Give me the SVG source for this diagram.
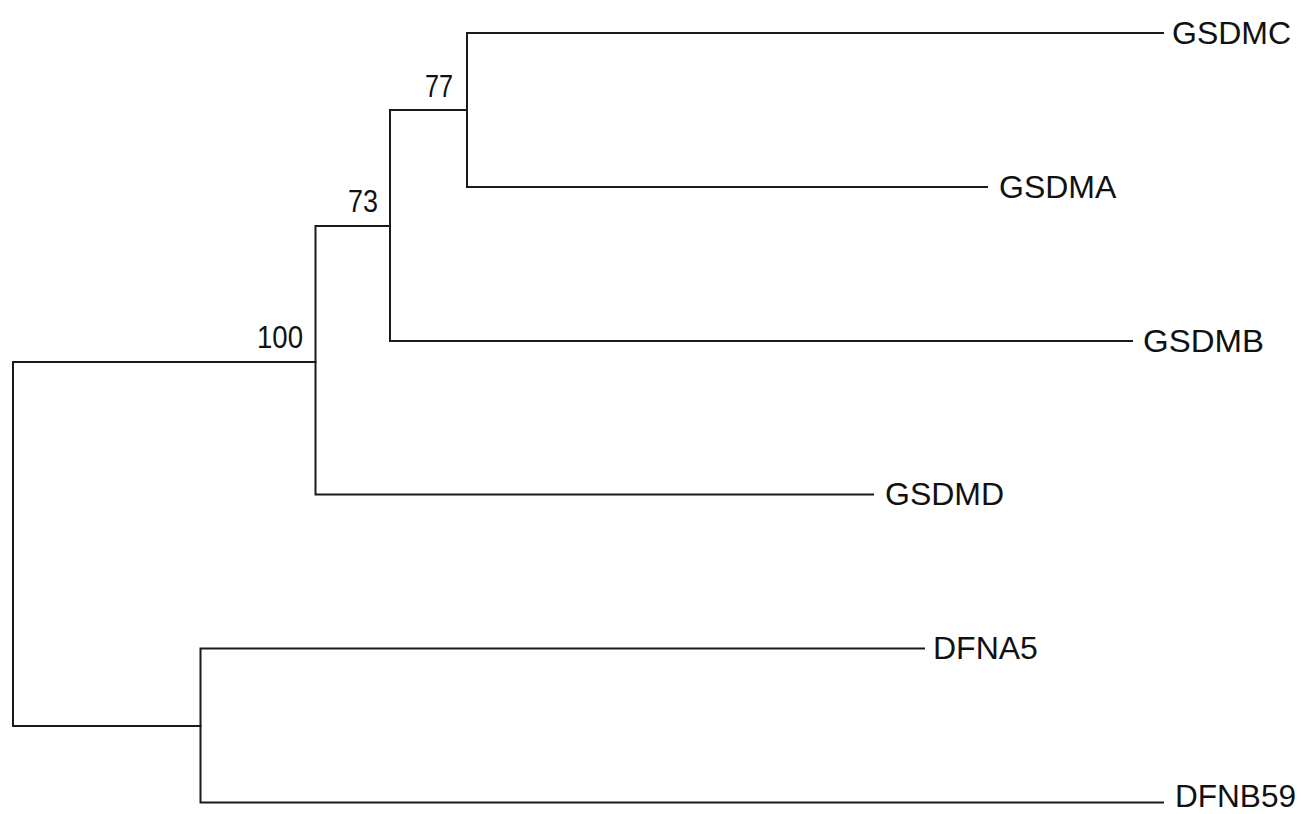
<svg xmlns="http://www.w3.org/2000/svg" width="1301" height="814" viewBox="0 0 1301 814">
  <style>
    .edge { fill: none; stroke: #1a1a1a; stroke-width: 2; stroke-linecap: square; }
    .leaf { font-family: "Liberation Sans", Arial, sans-serif; font-size: 32px; fill: #111; }
    .boot { font-family: "Liberation Sans", Arial, sans-serif; font-size: 31px; fill: #111; text-anchor: end; }
  </style>
  <rect width="1301" height="814" fill="#ffffff"/>

  <!-- Tree branches -->
  <g id="connectors">
    <!-- root -->
    <path class="edge" d="M315.5,362 H13 V726 H200.5"/>
    <!-- clade 100 -->
    <path class="edge" d="M390,226 H315.5 V494.5 H873"/>
    <!-- clade 73 -->
    <path class="edge" d="M467,110 H390 V341 H1132"/>
    <!-- clade 77 -->
    <path class="edge" d="M1163,33 H467 V187 H987"/>
    <!-- DFNA5 / DFNB59 -->
    <path class="edge" d="M924,648.5 H200.5 V802.5 H1163"/>
  </g>

  <!-- Bootstrap support values -->
  <g id="support">
    <text class="boot" x="303" y="348" textLength="46" lengthAdjust="spacingAndGlyphs">100</text>
    <text class="boot" x="378" y="212" textLength="30" lengthAdjust="spacingAndGlyphs">73</text>
    <text class="boot" x="453" y="97" textLength="28" lengthAdjust="spacingAndGlyphs">77</text>
  </g>

  <!-- Leaf nodes -->
  <g id="GSDMC"><text class="leaf" x="1172" y="44">GSDMC</text></g>
  <g id="GSDMA"><text class="leaf" x="999" y="198">GSDMA</text></g>
  <g id="GSDMB"><text class="leaf" x="1143" y="352" textLength="121" lengthAdjust="spacingAndGlyphs">GSDMB</text></g>
  <g id="GSDMD"><text class="leaf" x="885" y="505">GSDMD</text></g>
  <g id="DFNA5"><text class="leaf" x="933" y="659">DFNA5</text></g>
  <g id="DFNB59"><text class="leaf" x="1175" y="807" textLength="121" lengthAdjust="spacingAndGlyphs">DFNB59</text></g>
</svg>
